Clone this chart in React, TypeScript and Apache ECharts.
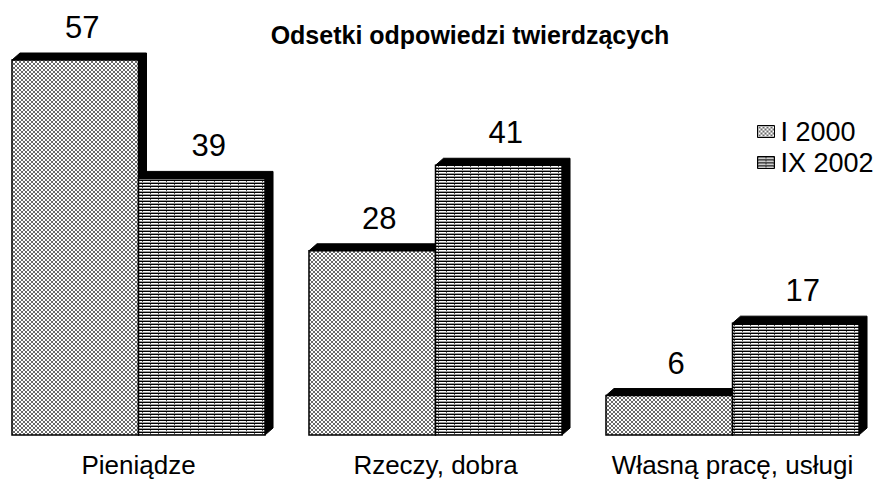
import React, { useEffect, useRef } from "react";
import * as echarts from "echarts";

const categories = ["Pieniądze", "Rzeczy, dobra", "Własną pracę, usługi"];
const seriesNames = ["I 2000", "IX 2002"];
const values2000 = [57, 28, 6];
const values2002 = [39, 41, 17];
const titleText = "Odsetki odpowiedzi twierdzących";

const SHIFT = 10;

function makeCheckPattern(): HTMLCanvasElement {
  const c = document.createElement("canvas");
  c.width = 4;
  c.height = 4;
  const ctx = c.getContext("2d")!;
  ctx.fillStyle = "#ffffff";
  ctx.fillRect(0, 0, 4, 4);
  ctx.fillStyle = "#6a6a6a";
  const pts = [
    [0, 0], [1, 1], [2, 2], [3, 3],
    [3, 0], [2, 1], [1, 2], [0, 3],
  ];
  pts.forEach(([x, y]) => ctx.fillRect(x, y, 1, 1));
  return c;
}

function makeLinePattern(): HTMLCanvasElement {
  const c = document.createElement("canvas");
  c.width = 8;
  c.height = 3;
  const ctx = c.getContext("2d")!;
  ctx.fillStyle = "#ffffff";
  ctx.fillRect(0, 0, 8, 3);
  ctx.fillStyle = "#000000";
  ctx.fillRect(0, 0, 8, 1);
  ctx.fillStyle = "#9a9a9a";
  ctx.fillRect(0, 2, 8, 1);
  ctx.fillStyle = "#555555";
  ctx.fillRect(0, 1, 1, 1);
  return c;
}

export default function App() {
  const ref = useRef<HTMLDivElement>(null);
  useEffect(() => {
    if (!ref.current) return;
    const chart = echarts.init(ref.current, undefined, { renderer: "svg" });
    const pat1 = { image: makeCheckPattern().toDataURL(), repeat: "repeat" as const };
    const pat2 = { image: makeLinePattern().toDataURL(), repeat: "repeat" as const };
    const patterns = [pat1, pat2];
    const DX = 8;
    const DY = 7;

    const makeSeries = (idx: number, vals: number[]) => ({
      type: "custom",
      name: seriesNames[idx],
      itemStyle: { color: patterns[idx], borderColor: "#000", borderWidth: 1 },
      data: vals.map((v, i) => [i, v]),
      z: 2 + idx,
      renderItem: (params: any, api: any) => {
        const ci = api.value(0);
        const v = api.value(1);
        const band = api.size([1, 0])[0];
        const center = api.coord([ci, 0]);
        const top = api.coord([ci, v]);
        const barW = band * 0.426;
        const x0 = idx === 0 ? center[0] - barW : center[0];
        const x1 = x0 + barW;
        const yB = center[1];
        const yT = top[1];
        return {
          type: "group",
          children: [
            {
              type: "polygon",
              shape: {
                points: [
                  [x0, yT], [x0 + DX, yT - DY], [x1 + DX, yT - DY],
                  [x1 + DX, yB - DY], [x1, yB], [x1, yT],
                ],
              },
              style: { fill: "#000", stroke: "#000", lineWidth: 1 },
            },
            {
              type: "rect",
              shape: { x: x0, y: yT, width: barW, height: yB - yT },
              style: { fill: patterns[idx] as any, stroke: "#000", lineWidth: 1.5 },
            },
            {
              type: "text",
              style: {
                text: String(v),
                x: (x0 + x1) / 2 + DX / 2 + 3,
                y: yT - DY - 10,
                align: "center",
                verticalAlign: "bottom",
                fill: "#000",
                font: "31px 'Liberation Sans', Arial, sans-serif",
              },
            },
          ],
        };
      },
    });

    chart.setOption({
      animation: false,
      backgroundColor: "#fff",
      title: {
        text: titleText,
        left: 465 + SHIFT,
        textAlign: "center",
        top: 17,
        textStyle: {
          fontFamily: "'Liberation Sans', Arial, sans-serif",
          fontWeight: "bold",
          fontSize: 25,
          color: "#000",
        },
      },
      legend: {
        orient: "vertical",
        left: 752 + SHIFT,
        top: 113,
        itemWidth: 17,
        itemHeight: 12,
        itemGap: 4,
        icon: "rect",
        data: seriesNames,
        itemStyle: { borderColor: "#000", borderWidth: 1 },
        textStyle: {
          fontFamily: "'Liberation Sans', Arial, sans-serif",
          fontSize: 27,
          color: "#000",
          padding: [0, 0, 0, 1],
        },
      },
      grid: { left: 0, right: 6, top: 60, bottom: 44, containLabel: false },
      xAxis: {
        type: "category",
        data: categories,
        axisLine: { show: false },
        axisTick: { show: false },
        axisLabel: {
          interval: 0,
          hideOverlap: false,
          margin: 17,
          fontFamily: "'Liberation Sans', Arial, sans-serif",
          fontSize: 26,
          color: "#000",
        },
      },
      yAxis: {
        type: "value",
        min: 0,
        max: 57,
        show: false,
        splitLine: { show: false },
      },
      series: [makeSeries(0, values2000), makeSeries(1, values2002)],
    });
    return () => chart.dispose();
  }, []);
  return (
    <div
      ref={ref}
      style={{ position: "fixed", left: -SHIFT, top: 0, width: 887 + SHIFT, height: 479 }}
    />
  );
}
